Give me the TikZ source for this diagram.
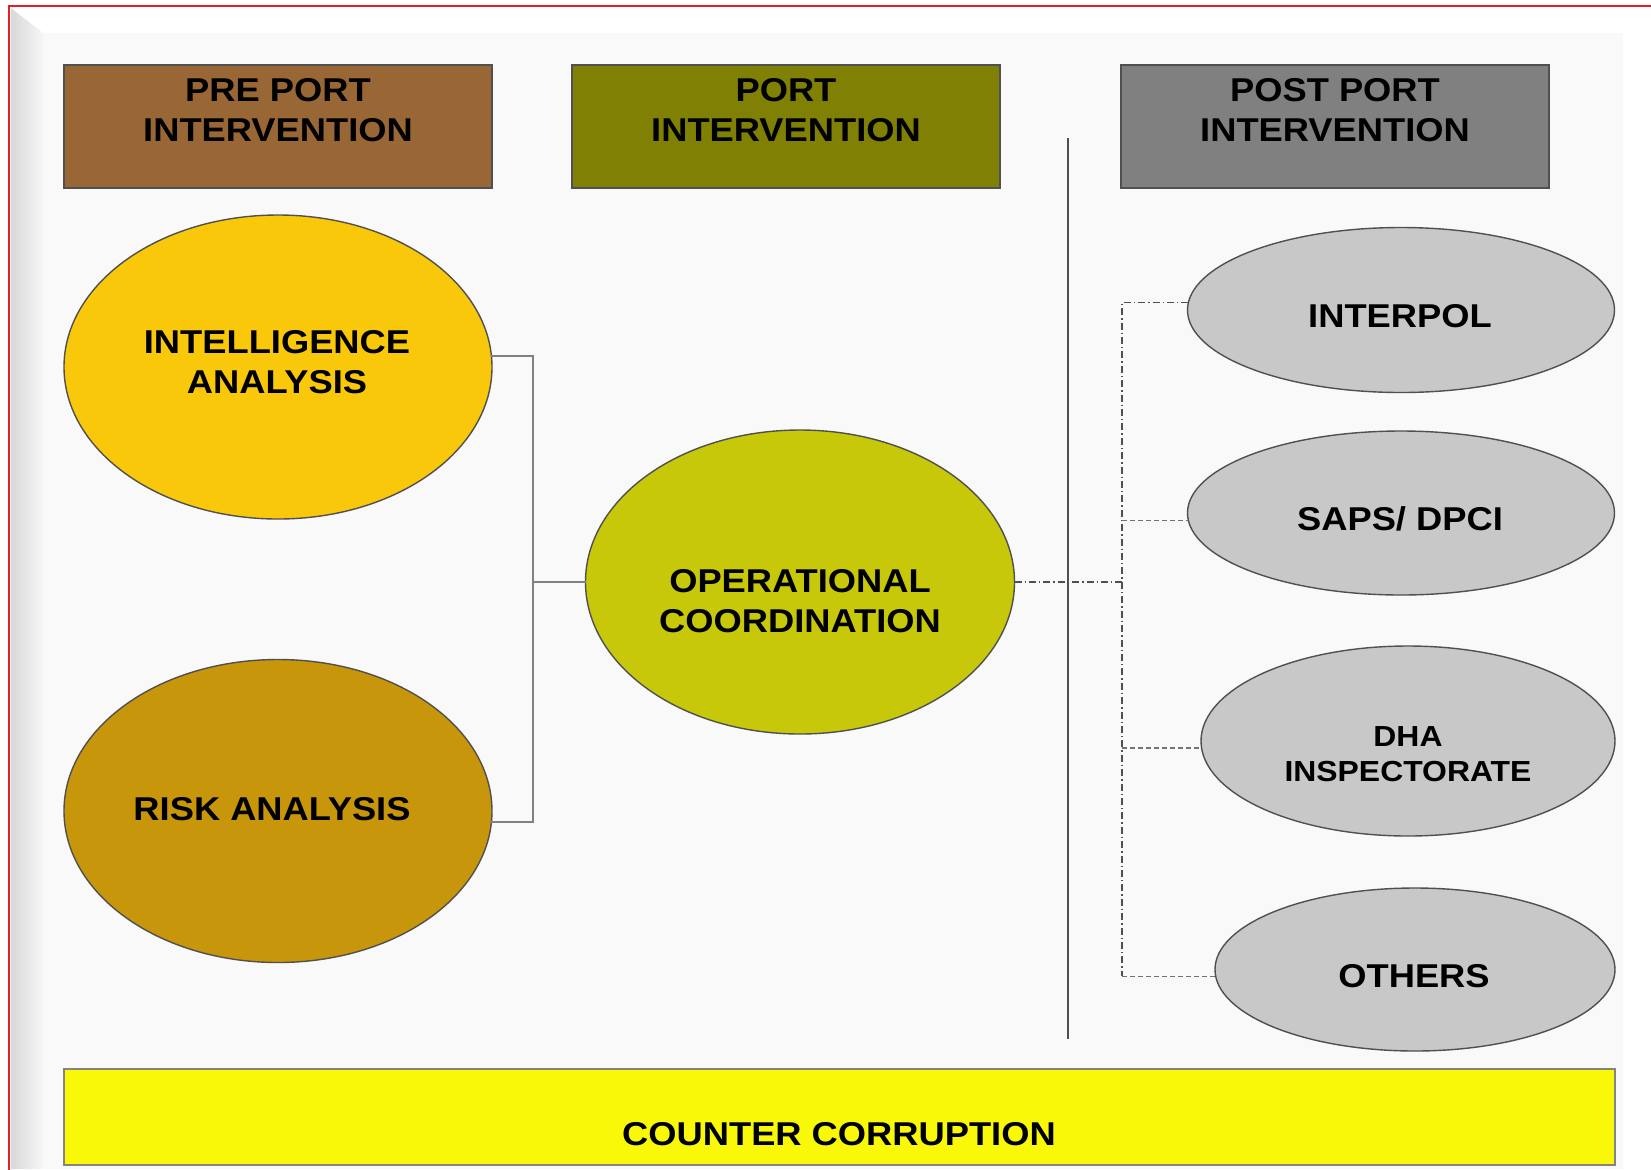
\documentclass[tikz,border=0pt]{standalone}
\usepackage{fontspec}
\setmainfont{Liberation Sans}[FakeStretch=1.1]
\usetikzlibrary{shapes.geometric}
\definecolor{panelbg}{RGB}{249,249,249}
\definecolor{frame}{RGB}{228,32,38}
\definecolor{edgegray}{RGB}{80,80,80}
\definecolor{conngray}{RGB}{128,128,128}
\definecolor{preport}{RGB}{153,102,53}
\definecolor{port}{RGB}{128,128,4}
\definecolor{postport}{RGB}{128,128,128}
\definecolor{intel}{RGB}{249,200,10}
\definecolor{risk}{RGB}{200,150,10}
\definecolor{opco}{RGB}{200,200,10}
\definecolor{agency}{RGB}{200,200,200}
\definecolor{counter}{RGB}{248,248,8}
\newcommand\mylbl{\fontsize{16.5}{20}\selectfont\bfseries}
\newcommand\mysmlbl{\fontsize{14.5}{17.5}\selectfont\bfseries}
\begin{document}
\begin{tikzpicture}[x=0.5pt,y=-0.5pt,
  hdrbox/.style={draw=edgegray,line width=0.7pt,minimum width=214pt,minimum height=61.5pt,inner sep=0pt,outer sep=0pt},
  ell/.style={ellipse,draw=edgegray,line width=0.7pt,inner sep=0pt,outer sep=0pt},
  txt/.style={align=center,font=\mylbl,inner sep=0pt,text=black},
  conn/.style={draw=conngray,line width=1pt},
  dd/.style={draw=edgegray,line width=0.7pt,dash pattern=on 3.5pt off 1.5pt on 0.7pt off 1.5pt},
  dsh/.style={draw=edgegray!80,line width=0.8pt,dash pattern=on 2.5pt off 1.5pt}]
\useasboundingbox (0,0) rectangle (1651,1169);
% background and frame
\fill[white] (0,0) rectangle (1651,1169);
\fill[panelbg] (43,33) rectangle (1623,1169);
\shade[left color=gray!30,right color=gray!7] (11,8) -- (43,33) -- (43,1169) -- (11,1169) -- cycle;
\draw[frame,line width=1.2pt] (9,6) rectangle (1670,1190);
% headers
\node[hdrbox,fill=preport] (h1) at (278,126.5) {};
\node[hdrbox,fill=port] (h2) at (786,126.5) {};
\node[hdrbox,fill=postport] (h3) at (1335,126.5) {};
\node[txt] (h1t) at (278,110.5) {PRE PORT\\INTERVENTION};
\node[txt] (h2t) at (786,110.5) {PORT\\INTERVENTION};
\node[txt] (h3t) at (1335,110.5) {POST PORT\\INTERVENTION};
% ellipses
\node[ell,fill=intel,minimum width=214pt,minimum height=152pt] (ia) at (278,367) {};
\node[ell,fill=risk,minimum width=214pt,minimum height=151.5pt] (ra) at (278,811) {};
\node[ell,fill=opco,minimum width=214.5pt,minimum height=152pt] (oc) at (800,582) {};
\node[ell,fill=agency,minimum width=213.5pt,minimum height=82.5pt] (ip) at (1401,310) {};
\node[ell,fill=agency,minimum width=213.5pt,minimum height=82pt] (sd) at (1401,513) {};
\node[ell,fill=agency,minimum width=207pt,minimum height=95pt] (dha) at (1408,741) {};
\node[ell,fill=agency,minimum width=200pt,minimum height=81.5pt] (oth) at (1415,969.5) {};
\node[txt] (iat) at (277,362) {INTELLIGENCE\\ANALYSIS};
\node[txt] (rat) at (272,809) {RISK ANALYSIS};
\node[txt] (oct) at (800,601) {OPERATIONAL\\COORDINATION};
\node[txt] (ipt) at (1400,316) {INTERPOL};
\node[txt] (sdt) at (1400,519) {SAPS/ DPCI};
\node[txt,font=\mysmlbl] (dhat) at (1408,754.5) {DHA\\INSPECTORATE};
\node[txt] (otht) at (1414,976) {OTHERS};
% counter corruption bar
\node[draw=edgegray!70,line width=0.7pt,fill=counter,minimum width=775.5pt,minimum height=48pt,inner sep=0pt,outer sep=0pt] (cc) at (839.5,1117) {};
\node[txt] (cct) at (839,1134) {COUNTER CORRUPTION};
% left bracket connectors
\coordinate (jl) at (533,582);
\draw[conn] (ia.3.5) -| (jl) |- (ra.-3.2);
\draw[conn] (jl) -- (oc.west);
% separator
\coordinate (sepT) at (1068,138);
\coordinate (sepB) at (1068,1039);
\draw[draw=edgegray,line width=1pt] (sepT) -- (sepB);
% right connectors
\coordinate (jr) at (1122,582);
\draw[dd] (oc.east) -- (jr);
\draw[dd] (ip.178) -| (jr);
\draw[dd] (jr) -- (jr |- oth.182);
\draw[dsh] (jr |- sd.-178.4) -- (sd.-178.4);
\draw[dsh] (jr |- dha.182) -- (dha.182);
\draw[dsh] (jr |- oth.182) -- (oth.182);
\end{tikzpicture}
\end{document}
